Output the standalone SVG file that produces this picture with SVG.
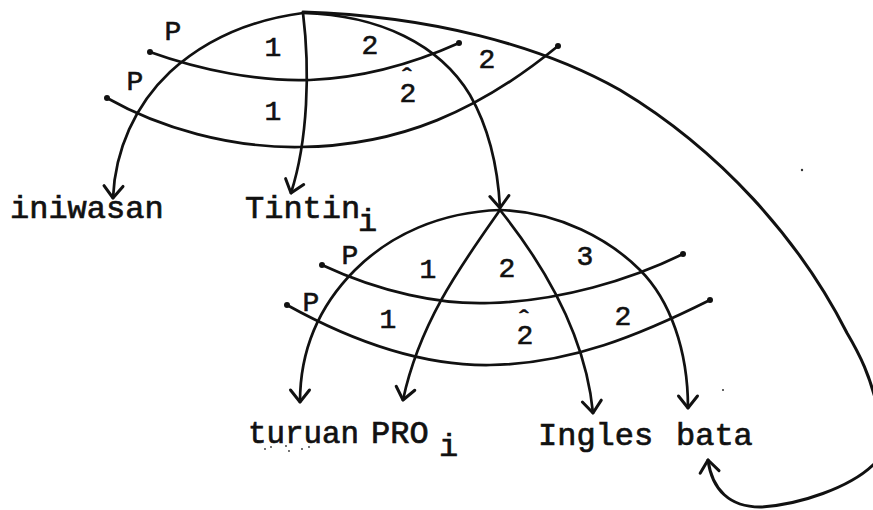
<svg xmlns="http://www.w3.org/2000/svg" width="873" height="510" viewBox="0 0 873 510">
<style>
.ln{fill:none;stroke:#111;stroke-width:2.7;stroke-linecap:round;stroke-linejoin:round}
.ar{marker-end:url(#ah)}
.big{stroke-width:3}
.w{font-family:"Liberation Mono","DejaVu Sans Mono",monospace;font-size:32px;fill:#111;stroke:#111;stroke-width:0.7}
.lb{font-family:"Liberation Mono","DejaVu Sans Mono",monospace;font-size:28px;fill:#111;stroke:#111;stroke-width:0.6;text-anchor:middle}
.dot{fill:#111}
</style>
<defs>
<marker id="ah" markerUnits="userSpaceOnUse" markerWidth="30" markerHeight="30" viewBox="-15 -15 30 30" refX="0" refY="0" orient="auto">
<path d="M-12,-9.5 L0,0 L-12,9.5" fill="none" stroke="#111" stroke-width="3" stroke-linecap="round" stroke-linejoin="round"/>
</marker>
</defs>
<rect width="873" height="510" fill="#fff"/>

<g id="connectors">
<!-- top tree -->
<path class="ln ar" d="M303,13 C250,20 205,40 170,72 C135,105 115,150 113,198"/>
<path class="ln ar" d="M303,13 C310,70 308,140 291,193"/>
<path class="ln ar" d="M303,13 C380,15 440,45 470,95 C490,130 498,170 500,208"/>
<path class="ln big ar" d="M303,12 C430,16 540,45 620,90 C720,150 800,240 847,333 C860,355 870,375 878,410 C884,440 884,455 873,465 C850,487 800,505 760,507 C730,507 712,490 708,460"/>
<path class="ln" d="M150,52 C200,70 260,82 310,80 C360,78 410,65 459,43"/>
<path class="ln" d="M107,98 C160,128 230,148 300,147 C400,146 480,110 558,46"/>
<!-- lower tree -->
<path class="ln ar" d="M500,210 C440,212 390,235 355,270 C320,305 300,350 300,402"/>
<path class="ln ar" d="M500,210 C465,260 420,320 403,400"/>
<path class="ln ar" d="M500,210 C540,260 585,330 593,413"/>
<path class="ln ar" d="M500,210 C560,212 610,240 640,270 C670,300 688,350 688,408"/>
<path class="ln" d="M322,265 C380,292 440,305 490,303 C560,301 630,280 683,254"/>
<path class="ln" d="M287,305 C350,340 420,366 490,365 C570,364 640,335 710,300"/>
</g>

<g id="line-ends">
<circle class="dot" cx="150" cy="52" r="3"/>
<circle class="dot" cx="459" cy="43" r="3"/>
<circle class="dot" cx="107" cy="98" r="3"/>
<circle class="dot" cx="558" cy="46" r="3"/>
<circle class="dot" cx="322" cy="265" r="3"/>
<circle class="dot" cx="683" cy="254" r="3"/>
<circle class="dot" cx="287" cy="305" r="3"/>
<circle class="dot" cx="710" cy="300" r="3"/>
</g>

<g id="top-labels">
<text class="lb" x="173" y="40">P</text>
<text class="lb" x="135" y="90">P</text>
<text class="lb" x="273" y="56">1</text>
<text class="lb" x="273" y="120">1</text>
<text class="lb" x="370" y="54">2</text>
<text class="lb" x="408" y="102">2<tspan x="407" y="87">ˆ</tspan></text>
<text class="lb" x="487" y="68">2</text>
</g>

<g id="lower-labels">
<text class="lb" x="350" y="264">P</text>
<text class="lb" x="311" y="311">P</text>
<text class="lb" x="428" y="278">1</text>
<text class="lb" x="507" y="277">2</text>
<text class="lb" x="585" y="265">3</text>
<text class="lb" x="388" y="328">1</text>
<text class="lb" x="525" y="344">2<tspan x="524" y="329">ˆ</tspan></text>
<text class="lb" x="623" y="325">2</text>
</g>

<g id="node-iniwasan"><text class="w" x="10" y="218">iniwasan</text></g>
<g id="node-tintin"><text class="w" x="245" y="218">Tintin<tspan x="358" y="231">i</tspan></text></g>
<g id="node-turuan"><text class="w" x="248" y="443" textLength="111" lengthAdjust="spacingAndGlyphs">turuan</text></g>
<g id="node-pro"><text class="w" x="371" y="443">PRO<tspan x="439" y="456">i</tspan></text></g>
<g id="node-ingles"><text class="w" x="538" y="445">Ingles</text></g>
<g id="node-bata"><text class="w" x="676" y="445">bata</text></g>

<g id="specks" fill="#333">
<circle cx="802" cy="170" r="1.2"/>
<circle cx="723" cy="390" r="1"/>
<circle cx="265" cy="449" r="0.9"/>
<circle cx="271" cy="447" r="0.9"/>
<circle cx="286" cy="446" r="0.9"/>
<circle cx="289" cy="451" r="0.9"/>
<circle cx="302" cy="449" r="0.9"/>
<circle cx="309" cy="447" r="0.9"/>
</g>
</svg>
